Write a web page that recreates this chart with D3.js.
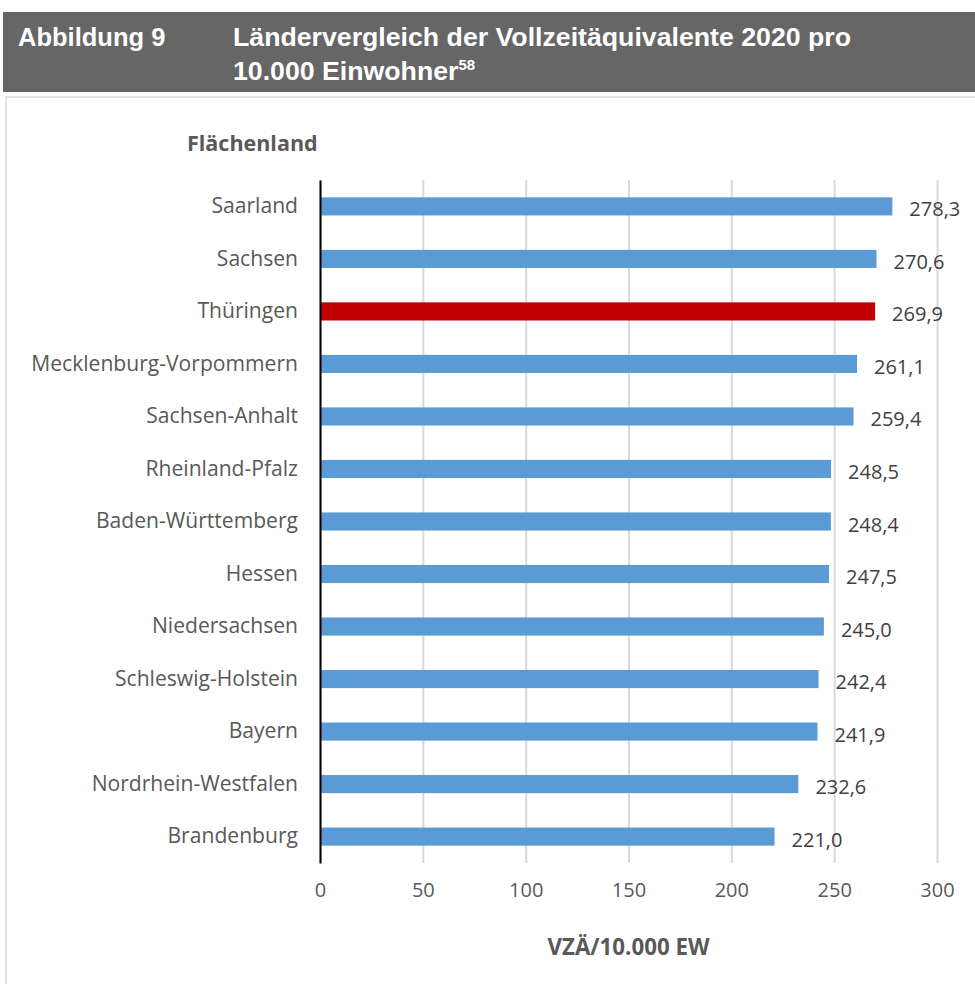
<!DOCTYPE html>
<html>
<head>
<meta charset="utf-8">
<script src="https://cdn.jsdelivr.net/npm/d3@7"></script>
<style>
  body { margin: 0; background: #fff; }
  svg text { font-family: "Open Sans", "DejaVu Sans", sans-serif; }
  .head text { font-family: "Liberation Sans", Arial, sans-serif; font-weight: bold; fill: #fff; }
</style>
</head>
<body>
<div id="chart"></div>
<script>
// Daten aus der Abbildung
const laender = ["Saarland", "Sachsen", "Thüringen", "Mecklenburg-Vorpommern", "Sachsen-Anhalt",
  "Rheinland-Pfalz", "Baden-Württemberg", "Hessen", "Niedersachsen", "Schleswig-Holstein",
  "Bayern", "Nordrhein-Westfalen", "Brandenburg"];
const werte = [278.3, 270.6, 269.9, 261.1, 259.4, 248.5, 248.4, 247.5, 245.0, 242.4, 241.9, 232.6, 221.0];
const xTicks = [0, 50, 100, 150, 200, 250, 300];
const hervorgehoben = "Thüringen";

const W = 975, H = 984;
const svg = d3.select("#chart").append("svg")
  .attr("width", W).attr("height", H);

// Kopfzeile
const head = svg.append("g").attr("class", "head");
head.append("rect").attr("x", 3).attr("y", 12).attr("width", W - 3).attr("height", 80).attr("fill", "#666666");
head.append("text").attr("x", 18).attr("y", 46).attr("font-size", 25.5).text("Abbildung 9");
head.append("text").attr("x", 233).attr("y", 46).attr("font-size", 26.7).text("Ländervergleich der Vollzeitäquivalente 2020 pro");
const z2 = head.append("text").attr("x", 233).attr("y", 80).attr("font-size", 26.7);
z2.append("tspan").text("10.000 Einwohner");
z2.append("tspan").attr("font-size", 15).attr("dy", -10).text("58");

// Rahmen des Diagramms
svg.append("rect").attr("x", 6).attr("y", 97).attr("width", W).attr("height", H)
  .attr("fill", "none").attr("stroke", "#d9d9d9").attr("stroke-width", 1.5);

const pLeft = 320, pRight = 937, pTop = 180, pBottom = 863;
const x = d3.scaleLinear().domain([0, 300]).range([pLeft, pRight]);
const y = d3.scaleBand().domain(laender).range([pTop, pBottom]).paddingInner(0.655).paddingOuter(0.33);

// Gitternetz
svg.append("g")
  .attr("transform", `translate(0,${pBottom})`)
  .call(d3.axisBottom(x).tickValues(xTicks).tickSize(-(pBottom - pTop)).tickFormat(""))
  .call(g => g.select(".domain").remove())
  .call(g => g.selectAll("line").attr("stroke", "#d9d9d9").attr("stroke-width", 2));

// Balken
svg.append("g").selectAll("rect")
  .data(laender)
  .join("rect")
  .attr("x", x(0))
  .attr("y", d => y(d))
  .attr("width", (d, i) => x(werte[i]) - x(0))
  .attr("height", y.bandwidth())
  .attr("fill", d => d === hervorgehoben ? "#c00000" : "#5b9bd5");

// Werte
svg.append("g").selectAll("text")
  .data(laender)
  .join("text")
  .attr("x", (d, i) => x(werte[i]) + 17)
  .attr("y", d => y(d) + y.bandwidth() / 2 + 3)
  .attr("dy", "0.35em")
  .attr("font-size", 20)
  .attr("fill", "#404040")
  .text((d, i) => d3.format(".1f")(werte[i]).replace(".", ","));

// y-Achse
svg.append("g")
  .attr("transform", `translate(${pLeft},0)`)
  .call(d3.axisLeft(y).tickSize(0).tickPadding(22))
  .call(g => g.select(".domain").attr("stroke", "#000").attr("stroke-width", 2))
  .call(g => g.selectAll("text").attr("font-size", 21.1).attr("fill", "#595959"));

// x-Achse Beschriftung
svg.append("g")
  .attr("transform", `translate(0,${pBottom})`)
  .call(d3.axisBottom(x).tickValues(xTicks).tickSize(0).tickPadding(20))
  .call(g => g.select(".domain").remove())
  .call(g => g.selectAll("text").attr("font-size", 20).attr("fill", "#595959"));

// Titel und Achsentitel
svg.append("text").attr("x", 187).attr("y", 151).attr("font-size", 21.5).attr("font-weight", "bold")
  .attr("fill", "#595959").text("Flächenland");
svg.append("text").attr("x", (pLeft + pRight) / 2).attr("y", 955).attr("text-anchor", "middle")
  .attr("font-size", 22.3).attr("font-weight", "bold").attr("fill", "#595959").text("VZÄ/10.000 EW");
</script>
</body>
</html>
